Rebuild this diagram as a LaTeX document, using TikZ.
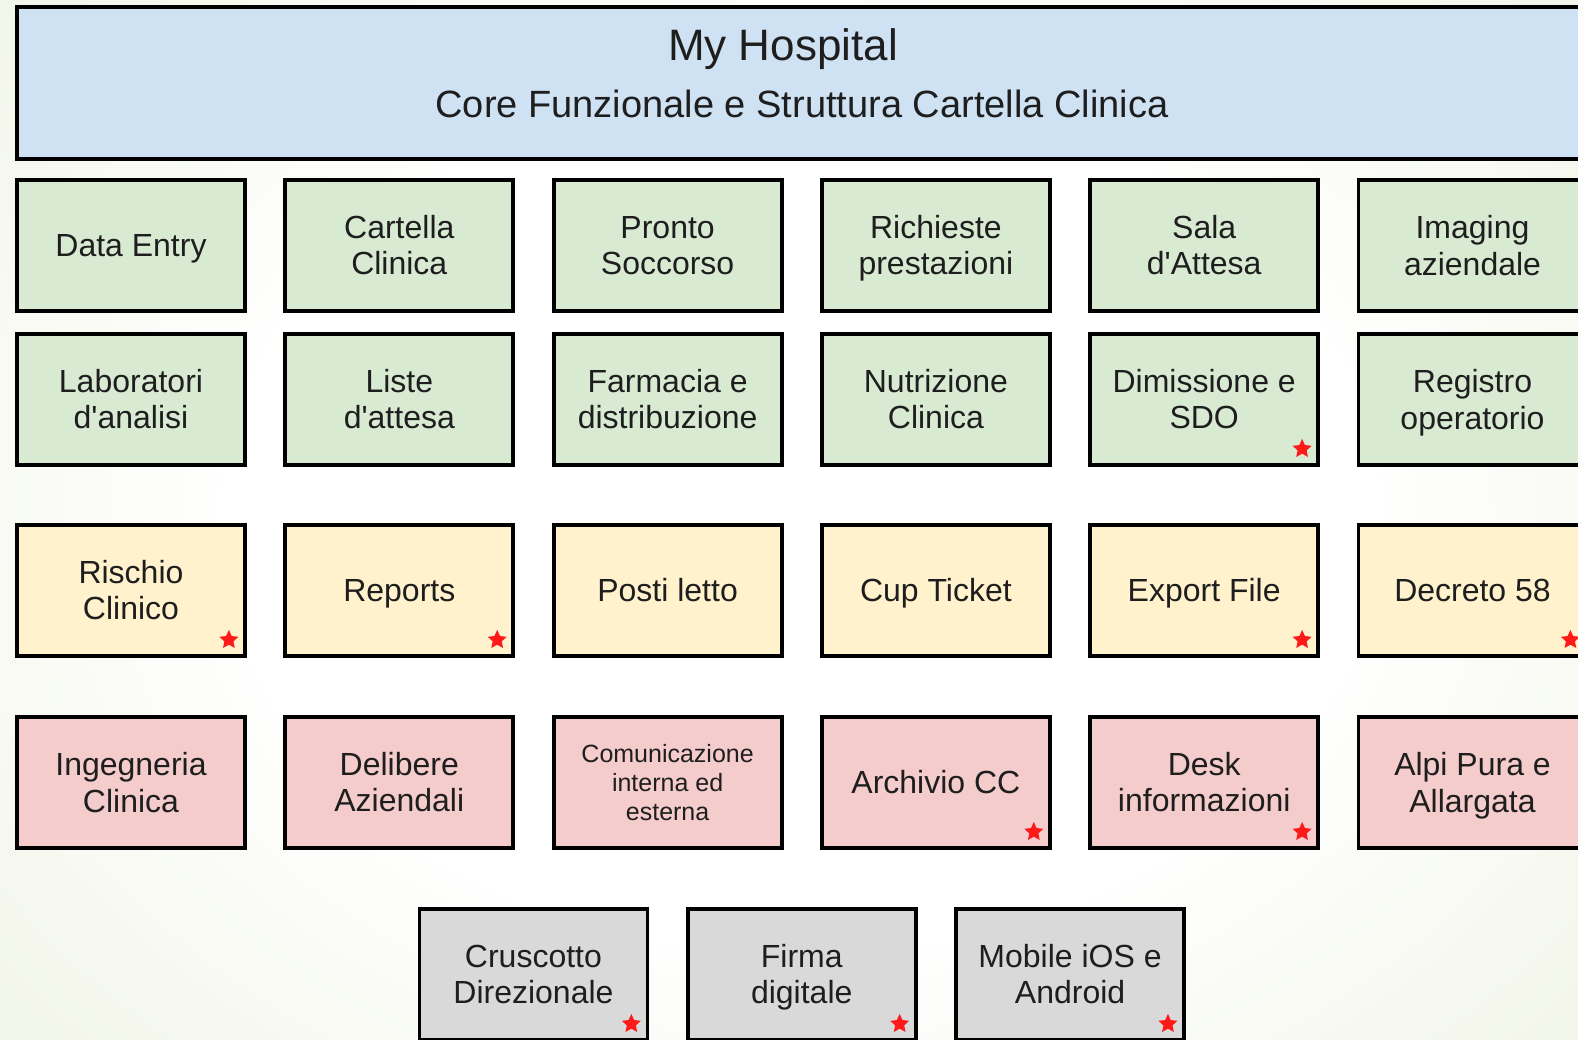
\documentclass[tikz,border=0pt]{standalone}
\usepackage{fontspec}
\setmainfont{Liberation Sans}[Ligatures=TeXOff]
\usetikzlibrary{shapes.geometric,calc}
\definecolor{bgout}{RGB}{230,236,212}
\definecolor{titlefill}{HTML}{CFE2F3}
\definecolor{greenfill}{HTML}{D9EAD3}
\definecolor{yellowfill}{HTML}{FFF2CC}
\definecolor{pinkfill}{HTML}{F4CCCC}
\definecolor{grayfill}{HTML}{D9D9D9}
\definecolor{txt}{HTML}{1E1E1E}
\definecolor{starred}{HTML}{FF1A1A}
\pgfdeclareradialshading{bgshade}{\pgfpointorigin}{color(0bp)=(white); color(14bp)=(white); color(38bp)=(bgout); color(50bp)=(bgout)}
\newcommand{\Ls}{\rule[-6.55pt]{0pt}{36pt}}
\newcommand{\Lc}{\rule[-5.55pt]{0pt}{29pt}}
\tikzset{
  box/.style={draw=black, line width=3.8pt, minimum width=228pt, minimum height=131pt,
    inner sep=0pt, align=center, font=\fontsize{32}{36}\selectfont, text=txt},
  titlebox/.style={draw=black, line width=3.8pt, fill=titlefill, minimum width=1593pt,
    minimum height=152pt, inner sep=0pt},
  titletext/.style={anchor=base, inner sep=0pt, text=txt},
  redstar/.style={star, star points=5, star point ratio=2.1, fill=starred, draw=none,
    minimum size=20pt, inner sep=0pt},
}
\begin{document}
\begin{tikzpicture}[x=1pt,y=-1pt]
\useasboundingbox (0,0) rectangle (1578,1039);
\begin{scope}
\clip (0,0) rectangle (1578,1039);
\shade[shading=bgshade] (-200,-230) rectangle (1800,1270);

% title
\node[titlebox] (title) at (813.5,83) {};
\node[titletext, font=\fontsize{44}{50}\selectfont] (t1) at (783,60) {My Hospital};
\node[titletext, font=\fontsize{38}{44}\selectfont] (t2) at (802,117) {Core Funzionale e Struttura Cartella Clinica};

% row 1
\node[box, fill=greenfill] (a1) at (131,245.5) {\Ls Data Entry};
\node[box, fill=greenfill] (a2) at (399.3,245.5) {\Ls Cartella\\\Ls Clinica};
\node[box, fill=greenfill] (a3) at (667.6,245.5) {\Ls Pronto\\\Ls Soccorso};
\node[box, fill=greenfill] (a4) at (935.9,245.5) {\Ls Richieste\\\Ls prestazioni};
\node[box, fill=greenfill] (a5) at (1204.2,245.5) {\Ls Sala\\\Ls d'Attesa};
\node[box, fill=greenfill] (a6) at (1472.5,245.5) {\Ls Imaging\\\Ls aziendale};

% row 2
\node[box, fill=greenfill] (b1) at (131,399.5) {\Ls Laboratori\\\Ls d'analisi};
\node[box, fill=greenfill] (b2) at (399.3,399.5) {\Ls Liste\\\Ls d'attesa};
\node[box, fill=greenfill] (b3) at (667.6,399.5) {\Ls Farmacia e\\\Ls distribuzione};
\node[box, fill=greenfill] (b4) at (935.9,399.5) {\Ls Nutrizione\\\Ls Clinica};
\node[box, fill=greenfill] (b5) at (1204.2,399.5) {\Ls Dimissione e\\\Ls SDO};
\node[box, fill=greenfill] (b6) at (1472.5,399.5) {\Ls Registro\\\Ls operatorio};

% row 3
\node[box, fill=yellowfill] (c1) at (131,590.5) {\Ls Rischio\\\Ls Clinico};
\node[box, fill=yellowfill] (c2) at (399.3,590.5) {\Ls Reports};
\node[box, fill=yellowfill] (c3) at (667.6,590.5) {\Ls Posti letto};
\node[box, fill=yellowfill] (c4) at (935.9,590.5) {\Ls Cup Ticket};
\node[box, fill=yellowfill] (c5) at (1204.2,590.5) {\Ls Export File};
\node[box, fill=yellowfill] (c6) at (1472.5,590.5) {\Ls Decreto 58};

% row 4
\node[box, fill=pinkfill] (d1) at (131,782.5) {\Ls Ingegneria\\\Ls Clinica};
\node[box, fill=pinkfill] (d2) at (399.3,782.5) {\Ls Delibere\\\Ls Aziendali};
\node[box, fill=pinkfill, font=\fontsize{25}{29}\selectfont] (d3) at (667.6,782.5) {\Lc Comunicazione\\\Lc interna ed\\\Lc esterna};
\node[box, fill=pinkfill] (d4) at (935.9,782.5) {\Ls Archivio CC};
\node[box, fill=pinkfill] (d5) at (1204.2,782.5) {\Ls Desk\\\Ls informazioni};
\node[box, fill=pinkfill] (d6) at (1472.5,782.5) {\Ls Alpi Pura e\\\Ls Allargata};

% row 5
\node[box, fill=grayfill] (e1) at (533.45,974.5) {\Ls Cruscotto\\\Ls Direzionale};
\node[box, fill=grayfill] (e2) at (801.75,974.5) {\Ls Firma\\\Ls digitale};
\node[box, fill=grayfill] (e3) at (1070.05,974.5) {\Ls Mobile iOS e\\\Ls Android};

% stars
\foreach \n in {b5,c1,c2,c5,c6,d4,d5,e1,e2,e3}
  \node[redstar] (star-\n) at ($(\n.south east)+(-18,-18)$) {};
\end{scope}
\end{tikzpicture}
\end{document}
